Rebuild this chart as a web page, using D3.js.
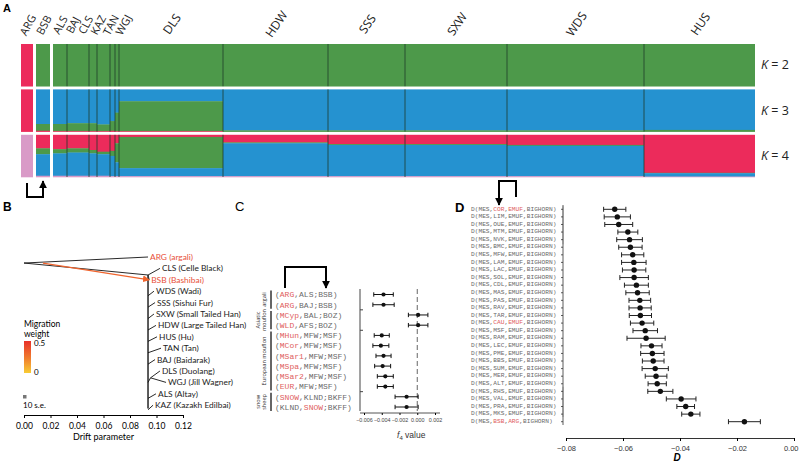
<!DOCTYPE html>
<html><head><meta charset="utf-8">
<script src="https://cdn.jsdelivr.net/npm/d3@7"></script>
<style>body{margin:0;background:#fff} svg{display:block}</style>
</head><body>
<svg id="c" width="799" height="467"></svg>
<script>
// ================= DATA =================
// Panel A : admixture (population mean proportions)
const popNames = ["ARG","BSB","ALS","BAJ","CLS","KAZ","TAN","WGJ","DLS","HDW","SSS","SXW","WDS","HUS"];
const popSizes = [12,14,14,22,8,13,5,4,104,105,77,102,137,111];
const kLabels = ["2","3","4"];
// K = 2 (top -> bottom)
const k2Red   = [1,0,0,0,0,0,0,0,0,0,0,0,0,0];
const k2Green = [0,1,1,1,1,1,1,1,1,1,1,1,1,1];
// K = 3
const k3Blue  = [0,.82,.82,.80,.80,.83,.75,.55,.28,.97,.97,.97,.97,.96];
const k3Green = [0,.16,.17,.19,.19,.16,.23,.44,.71,.03,.03,.03,.03,.04];
const k3Red   = [1,.02,.01,.01,.01,.01,.02,.01,.01,0,0,0,0,0];
// K = 4
const k4Red   = [0,.32,.34,.32,.36,.40,.38,.20,.05,.18,.22,.22,.24,.90];
const k4Green = [0,.14,.10,.10,.08,.06,.12,.45,.74,.02,.02,.02,.02,.01];
const k4Blue  = [0,.51,.53,.55,.53,.51,.48,.33,.19,.78,.74,.74,.72,.08];
const k4Pink  = [1,.03,.03,.03,.03,.03,.02,.02,.02,.02,.02,.02,.02,.01];

// Panel B : TreeMix
const treeLeaves = ["ARG (argali)","CLS (Celle Black)","BSB (Bashibai)","WDS (Wadi)","SSS (Sishui Fur)",
  "SXW (Small Tailed Han)","HDW (Large Tailed Han)","HUS (Hu)","TAN (Tan)","BAJ (Baidarak)",
  "DLS (Duolang)","WGJ (Jill Wagner)","ALS (Altay)","KAZ (Kazakh Edilbai)"];
const leafDrift = [0.0936,0.1026,0.0945,0.0981,0.0989,0.0981,0.0996,0.1004,0.1034,0.0989,0.1026,0.1072,0.0996,0.0974];
const leafRed = ["ARG (argali)","BSB (Bashibai)"];
const splitDrift = 0.0936;       // internal node after root
const dlsWgjDrift = 0.0955;      // shared node DLS/WGJ
const migrationFromDrift = 0.0143;
const driftTicks = [0,0.02,0.04,0.06,0.08,0.10,0.12];

// Panel C : f4 statistics
const f4Labels = ["(ARG,ALS;BSB)","(ARG,BAJ;BSB)","(MCyp,BAL;BOZ)","(WLD,AFS;BOZ)","(MHun,MFW;MSF)",
  "(MCor,MFW;MSF)","(MSar1,MFW;MSF)","(MSpa,MFW;MSF)","(MSar2,MFW;MSF)","(EUR,MFW;MSF)",
  "(SNOW,KLND;BKFF)","(KLND,SNOW;BKFF)"];
const f4Red = ["ARG","ARG","MCyp","WLD","MHun","MCor","MSar1","MSpa","MSar2","EUR","SNOW","SNOW"];
const f4Values = [-0.0038,-0.0038,0.0001,0.0001,-0.0040,-0.0041,-0.0038,-0.0039,-0.0036,-0.0036,-0.0012,-0.0012];
const f4Err    = [0.0011,0.0012,0.0011,0.0011,0.00085,0.0009,0.00085,0.0009,0.0009,0.0009,0.0013,0.0013];
const f4Groups = [
  {lines:["argali"], from:0, to:1},
  {lines:["Asiatic","mouflon"], from:2, to:3},
  {lines:["European mouflon"], from:4, to:9},
  {lines:["snow","sheep"], from:10, to:11}];
const f4Ticks = [-0.006,-0.004,-0.002,0,0.002];

// Panel D : D statistics
const dPops = ["COR","LIM","OUE","MTM","NVK","BMC","MFW","LAM","LAC","SOL","CDL","MAS","PAS","RAV","TAR",
  "CAU","MSF","RAM","LEC","PME","BBS","SUM","MER","ALT","RHS","VAL","PRA","MKS","BSB"];
const dRefs = ["EMUF","EMUF","EMUF","EMUF","EMUF","EMUF","EMUF","EMUF","EMUF","EMUF","EMUF","EMUF","EMUF","EMUF","EMUF",
  "EMUF","EMUF","EMUF","EMUF","EMUF","EMUF","EMUF","EMUF","EMUF","EMUF","EMUF","EMUF","EMUF","ARG"];
const dRedRows = ["COR","CAU","BSB"];
const dValues = [-0.0629,-0.0620,-0.0615,-0.0583,-0.0577,-0.0574,-0.0566,-0.0562,-0.0561,-0.0561,-0.0553,-0.0549,
  -0.0541,-0.0540,-0.0539,-0.0533,-0.0522,-0.0519,-0.0500,-0.0497,-0.0494,-0.0487,-0.0484,-0.0480,-0.0469,
  -0.0396,-0.0380,-0.0362,-0.0174];
const dErr = [0.0039,0.0046,0.0049,0.0035,0.0045,0.0041,0.0039,0.0043,0.0041,0.0050,0.0042,0.0041,0.0038,0.0039,
  0.0039,0.0041,0.0043,0.0067,0.0037,0.0041,0.0038,0.0046,0.0038,0.0032,0.0044,0.0052,0.0031,0.0032,0.0056];
const dTicks = [-0.08,-0.06,-0.04,-0.02,0];

// ================= DRAW =================
const svg = d3.select("#c");
const C = {red:"#ec2b5b", green:"#4d994a", blue:"#2592d0", pink:"#d99ac7"};
const txtRed = "#e0605e", monoGray = "#6a6a6a";
const sans = "'Open Sans', sans-serif";
const mono = "'Liberation Mono', 'DejaVu Sans Mono', monospace";

const defs = svg.append("defs");
function marker(id, color, size){
  defs.append("marker").attr("id",id).attr("viewBox","0 0 10 10").attr("refX",9).attr("refY",5)
    .attr("markerWidth",size).attr("markerHeight",size).attr("markerUnits","userSpaceOnUse")
    .attr("orient","auto").append("path").attr("d","M0,0 L10,5 L0,10 Z").attr("fill",color);
}
marker("arrB","#000",8); marker("arrO","#f0642d",7);

// panel letters
svg.append("text").attr("x",3).attr("y",12).text("A").attr("font-family","Arial, sans-serif").attr("font-weight","bold").attr("font-size",11);
svg.append("text").attr("x",3).attr("y",211).text("B").attr("font-family","Arial, sans-serif").attr("font-weight","bold").attr("font-size",12);
svg.append("text").attr("x",235).attr("y",211).text("C").attr("font-family","Arial, sans-serif").attr("font-size",13);
svg.append("text").attr("x",455).attr("y",212).text("D").attr("font-family","Arial, sans-serif").attr("font-weight","bold").attr("font-size",13);

// ---------- Panel A ----------
const gapUnits = 3, gappedPops = ["ARG","BSB"];
let acc = 0;
const pops = popNames.map((n,i)=>{
  const o = {name:n, i, x0:acc, x1:acc+popSizes[i]};
  acc += popSizes[i] + (gappedPops.includes(n) ? gapUnits : 0);
  return o;
});
const xA = d3.scaleLinear().domain([0, acc]).range([21, 755]);
const yA = d3.scaleBand().domain(kLabels).range([44,177]).paddingInner(0.07);
const kComps = {
  "2":[[k2Red,C.red],[k2Green,C.green]],
  "3":[[k3Blue,C.blue],[k3Green,C.green],[k3Red,C.red]],
  "4":[[k4Red,C.red],[k4Green,C.green],[k4Blue,C.blue],[k4Pink,C.pink]]
};
const gA = svg.append("g");
kLabels.forEach(k=>{
  const y0 = yA(k), h = yA.bandwidth();
  const segs = [];
  pops.forEach(p=>{
    let cum = 0;
    kComps[k].forEach(([arr,col])=>{
      const v = arr[p.i];
      if(v>0) segs.push({p, y:y0+cum*h, hh:v*h, col});
      cum += v;
    });
  });
  gA.selectAll(null).data(segs).join("rect")
    .attr("x",d=>xA(d.p.x0)).attr("width",d=>xA(d.p.x1)-xA(d.p.x0))
    .attr("y",d=>d.y).attr("height",d=>d.hh+0.3).attr("fill",d=>d.col);
  gA.selectAll(null).data(pops.filter((p,i)=>i>2)).join("line")
    .attr("x1",d=>xA(d.x0)).attr("x2",d=>xA(d.x0)).attr("y1",y0).attr("y2",y0+h)
    .attr("stroke","#1e3a28").attr("stroke-width",0.9).attr("opacity",0.85);
  svg.append("text").attr("x",761).attr("y",y0+h/2+4).attr("font-family",sans).attr("font-size",12.5)
    .attr("fill","#222")
    .call(t=>{t.append("tspan").attr("font-style","italic").text("K"); t.append("tspan").text(" = "+k);});
});
// population labels: runs of narrow populations spread evenly
const runs = []; let cur = [];
pops.forEach(p=>{
  const w = xA(p.x1)-xA(p.x0);
  if(w<30){ cur.push(p); if(gappedPops.includes(p.name)){runs.push(cur);cur=[];} }
  else { if(cur.length){runs.push(cur);cur=[];} runs.push([p]); }
});
if(cur.length) runs.push(cur);
const labPos = [];
runs.forEach(r=>{
  const a = xA(r[0].x0), b = xA(r[r.length-1].x1) + (r.length>1?10:0);
  r.forEach((p,j)=>labPos.push({name:p.name, x: a + (j+0.5)*(b-a)/r.length, small:r.length>1||(xA(p.x1)-xA(p.x0))<30}));
});
svg.selectAll(null).data(labPos).join("text")
  .attr("transform",d=>`translate(${d.x+1},${d.small?25:24}) rotate(${d.small?-62:-55})`)
  .attr("text-anchor","middle").attr("dy","0.35em")
  .attr("font-family",sans).attr("font-size",d=>d.small?11:12).attr("fill","#222").text(d=>d.name);
// arrow under A
svg.append("path").attr("d",`M${xA((pops[0].x0+pops[0].x1)/2)},183 V197 H${xA((pops[1].x0+pops[1].x1)/2)} V181`)
  .attr("fill","none").attr("stroke","#000").attr("stroke-width",2).attr("marker-end","url(#arrB)");

// ---------- Panel B ----------
const xB = d3.scaleLinear().domain([0,0.12]).range([24,183]);
const yB = d3.scaleLinear().domain([0,13]).range([257,405.2]);
const gB = svg.append("g");
const ln = (x1,r1,x2,r2,w=0.9,c="#111")=>gB.append("line").attr("x1",xB(x1)).attr("y1",yB(r1))
  .attr("x2",xB(x2)).attr("y2",yB(r2)).attr("stroke",c).attr("stroke-width",w);
const rootRow = 0.53, splitRow = 1.58;
ln(0,rootRow,leafDrift[0],0);
ln(0,rootRow,splitDrift,splitRow);
ln(splitDrift,splitRow,leafDrift[1],1);
ln(splitDrift,splitRow,leafDrift[2],2);
ln(splitDrift,splitRow,splitDrift,13.3,1.6,"#333");
treeLeaves.forEach((n,i)=>{
  if(i<3 || i===10 || i===11) return;
  ln(splitDrift,i+0.4,leafDrift[i],i);
});
ln(splitDrift,11.0,dlsWgjDrift,10.6);
ln(dlsWgjDrift,10.6,leafDrift[10],10);
ln(dlsWgjDrift,10.6,leafDrift[11],11);
gB.append("line").attr("x1",xB(migrationFromDrift)).attr("y1",yB(rootRow))
  .attr("x2",xB(leafDrift[2])).attr("y2",yB(2)).attr("stroke","#f0642d").attr("stroke-width",1.2)
  .attr("marker-end","url(#arrO)");
gB.selectAll(null).data(treeLeaves).join("text")
  .attr("x",(d,i)=>xB(leafDrift[i])+2).attr("y",(d,i)=>yB(i)+3)
  .attr("font-family","Lato, sans-serif").attr("font-size",8.4)
  .attr("fill",d=>leafRed.includes(d)?"#e8503a":"#222").text(d=>d);
// legend
gB.append("text").attr("x",24).attr("y",327).text("Migration").attr("font-family","Lato, sans-serif").attr("font-size",8.5);
gB.append("text").attr("x",24).attr("y",337).text("weight").attr("font-family","Lato, sans-serif").attr("font-size",8.5);
const grad = defs.append("linearGradient").attr("id","mg").attr("x1",0).attr("x2",0).attr("y1",0).attr("y2",1);
grad.append("stop").attr("offset","0%").attr("stop-color","#e8312a");
grad.append("stop").attr("offset","55%").attr("stop-color","#f07f2e");
grad.append("stop").attr("offset","100%").attr("stop-color","#f8cc35");
gB.append("rect").attr("x",24).attr("y",341).attr("width",7).attr("height",32).attr("fill","url(#mg)");
gB.append("text").attr("x",34).attr("y",346).text("0.5").attr("font-family","Lato, sans-serif").attr("font-size",8);
gB.append("text").attr("x",34).attr("y",375).text("0").attr("font-family","Lato, sans-serif").attr("font-size",8);
gB.append("rect").attr("x",23).attr("y",395).attr("width",3.5).attr("height",3.5).attr("fill","#777");
gB.append("text").attr("x",23).attr("y",408).text("10 s.e.").attr("font-family","Lato, sans-serif").attr("font-size",8);
const axB = svg.append("g").attr("transform","translate(0,415)")
  .call(d3.axisBottom(xB).tickValues(driftTicks).tickFormat(d3.format(".2f")).tickSize(3).tickSizeOuter(0));
axB.selectAll("text").attr("font-family","Lato, sans-serif").attr("font-size",8.5).attr("dy","0.9em");
axB.select(".domain").attr("stroke-width",1.2);
svg.append("text").attr("x",xB(0.06)).attr("y",440).attr("text-anchor","middle")
  .attr("font-family","Lato, sans-serif").attr("font-size",9).text("Drift parameter");

// ---------- Panel C ----------
const xC = d3.scaleLinear().domain([-0.006,0.002]).range([364,435]);
const yC = d3.scalePoint().domain(d3.range(f4Labels.length)).range([294.5,407]);
const gC = svg.append("g");
svg.append("path").attr("d","M285,288 V267 H326 V288").attr("fill","none").attr("stroke","#000")
  .attr("stroke-width",2).attr("marker-end","url(#arrB)");
function redText(sel, label, reds){
  const parts = label.split(/([A-Za-z0-9]+)/).filter(s=>s.length);
  parts.forEach(s=>sel.append("tspan").attr("fill",reds.includes(s)?txtRed:monoGray).text(s));
}
f4Labels.forEach((l,i)=>{
  const t = gC.append("text").attr("x",275).attr("y",yC(i)+2.8).attr("font-family",mono).attr("font-size",8);
  redText(t,l,[f4Red[i]]);
});
f4Groups.forEach(g=>{
  const y1 = yC(g.from)-4, y2 = yC(g.to)+4;
  gC.append("line").attr("x1",271).attr("x2",271).attr("y1",y1).attr("y2",y2).attr("stroke","#666").attr("stroke-width",2);
  const n = g.lines.length;
  g.lines.forEach((s,j)=>{
    gC.append("text").attr("transform",`translate(${266-(n-1-j)*6},${(y1+y2)/2}) rotate(-90)`)
      .attr("text-anchor","middle").attr("font-family",sans).attr("font-size",5.6).attr("fill","#333").text(s);
  });
});
gC.append("line").attr("x1",360).attr("x2",360).attr("y1",289).attr("y2",411).attr("stroke","#444").attr("stroke-width",1);
gC.selectAll(null).data([1.5,3.5,9.5]).join("line").attr("x1",360).attr("x2",363)
  .attr("y1",d=>yC(0)+d*(yC(1)-yC(0))).attr("y2",d=>yC(0)+d*(yC(1)-yC(0))).attr("stroke","#444");
gC.append("line").attr("x1",xC(0)).attr("x2",xC(0)).attr("y1",289).attr("y2",411)
  .attr("stroke","#666").attr("stroke-width",1).attr("stroke-dasharray","5,3");
f4Values.forEach((v,i)=>{
  const y = yC(i), a = xC(v-f4Err[i]), b = xC(v+f4Err[i]);
  gC.append("line").attr("x1",a).attr("x2",b).attr("y1",y).attr("y2",y).attr("stroke","#111");
  [a,b].forEach(x=>gC.append("line").attr("x1",x).attr("x2",x).attr("y1",y-2.2).attr("y2",y+2.2).attr("stroke","#111"));
  gC.append("circle").attr("cx",xC(v)).attr("cy",y).attr("r",2.1).attr("fill","#111");
});
const axC = svg.append("g").attr("transform","translate(0,413)")
  .call(d3.axisBottom(xC).tickValues(f4Ticks).tickFormat(d3.format(".3f")).tickSize(2).tickSizeOuter(0));
axC.selectAll("text").attr("font-family","'Liberation Sans Narrow', Arial, sans-serif").attr("font-size",5.4).attr("fill","#444");
axC.select(".domain").attr("d","M360,0 H440").attr("stroke","#555");
svg.append("text").attr("x",397).attr("y",438).attr("text-anchor","start").attr("font-family","Arial, sans-serif")
  .attr("font-size",8.5).attr("fill","#333")
  .call(t=>{t.append("tspan").attr("font-style","italic").text("f");
    t.append("tspan").attr("font-size",6).attr("dy",2).text("4");
    t.append("tspan").attr("dy",-2).text(" value");});

// ---------- Panel D ----------
const xD = d3.scaleLinear().domain([-0.08,0]).range([566,794]);
const yD = d3.scalePoint().domain(d3.range(dPops.length)).range([209.3,421.7]);
const gD = svg.append("g");
svg.append("path").attr("d","M516,197 V181 H499 V205").attr("fill","none").attr("stroke","#000")
  .attr("stroke-width",2).attr("marker-end","url(#arrB)");
dPops.forEach((p,i)=>{
  const lab = `D(MES,${p},${dRefs[i]},BIGHORN)`;
  const reds = dRedRows.includes(p) ? [p, dRefs[i]] : [];
  const t = gD.append("text").attr("x",471).attr("y",yD(i)+1.2).attr("font-family",mono).attr("font-size",6.2);
  redText(t,lab,reds);
});
gD.append("line").attr("x1",563).attr("x2",563).attr("y1",205).attr("y2",425).attr("stroke","#333").attr("stroke-width",0.8);
gD.append("line").attr("x1",563).attr("x2",563).attr("y1",yD(0)-3).attr("y2",yD(5)-3).attr("stroke","#999").attr("stroke-width",2);
gD.append("line").attr("x1",563).attr("x2",563).attr("y1",yD(23)+3).attr("y2",yD(27)+3).attr("stroke","#999").attr("stroke-width",2);
gD.selectAll(null).data(d3.range(dPops.length)).join("line").attr("x1",561).attr("x2",563)
  .attr("y1",d=>yD(d)).attr("y2",d=>yD(d)).attr("stroke","#333").attr("stroke-width",0.8);
dValues.forEach((v,i)=>{
  const y = yD(i), a = xD(v-dErr[i]), b = xD(v+dErr[i]);
  gD.append("line").attr("x1",a).attr("x2",b).attr("y1",y).attr("y2",y).attr("stroke","#222");
  [a,b].forEach(x=>gD.append("line").attr("x1",x).attr("x2",x).attr("y1",y-2.5).attr("y2",y+2.5).attr("stroke","#222"));
  gD.append("circle").attr("cx",xD(v)).attr("cy",y).attr("r",2.7).attr("fill","#111");
});
const axD = svg.append("g").attr("transform","translate(0,438)")
  .call(d3.axisBottom(xD).tickValues(dTicks).tickFormat(d3.format(".2f")).tickSize(3).tickSizeOuter(0));
axD.selectAll("text").attr("font-family","Arial, sans-serif").attr("font-size",7.5).attr("fill","#333").attr("dy","0.9em");
axD.selectAll(".tick").filter(d=>d===0).select("text").attr("text-anchor","end").attr("x",4);
axD.select(".domain").attr("stroke","#333");
svg.append("text").attr("x",677).attr("y",461).attr("text-anchor","middle").attr("font-family","Arial, sans-serif")
  .attr("font-size",10).attr("font-weight","bold").attr("font-style","italic").text("D");
</script>
</body></html>
